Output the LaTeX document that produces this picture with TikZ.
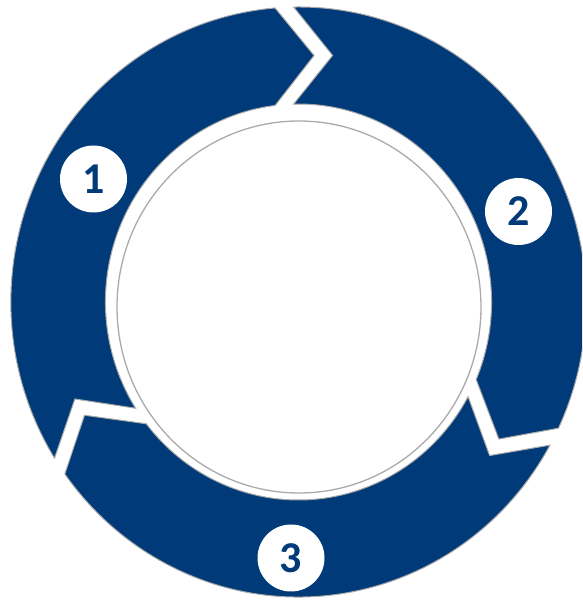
\documentclass[tikz,border=0pt]{standalone}
\usepackage{fontspec}
\newfontfamily\numfont{Carlito}
\definecolor{ringblue}{RGB}{0,58,120}
\definecolor{edgegray}{RGB}{170,170,170}
\begin{document}
\begin{tikzpicture}[x=1pt,y=1pt,
  seg/.style={fill=ringblue, draw=edgegray, line width=1pt, line join=miter},
  badge/.style={circle, fill=white, minimum size=67pt, inner sep=0pt, text=ringblue,
    font=\numfont\bfseries\fontsize{44}{44}\selectfont},
  ]
\useasboundingbox (0,0) rectangle (582,601);
\clip (0,0) rectangle (582,601);
\begin{scope}[shift={(298.5,299)}, xscale=0.975]
 % segment 1 (left)
 \draw[seg] (94.67:295) -- (86.29:247) -- (96.96:198)
   arc[start angle=96.96, end angle=212.45, radius=198]
   -- (202.92:249) -- (211.97:295)
   arc[start angle=211.97, end angle=94.67, radius=295] -- cycle;
 % segment 2 (right)
 \draw[seg] (-25.33:295) -- (-33.71:247) -- (-23.04:198)
   arc[start angle=-23.04, end angle=91.45, radius=198]
   -- (81.92:249) -- (90.97:295)
   arc[start angle=90.97, end angle=-25.33, radius=295] -- cycle;
 % segment 3 (bottom)
 \draw[seg] (215.67:295) -- (207.29:247) -- (217.96:198)
   arc[start angle=217.96, end angle=331.45, radius=198]
   -- (321.92:249) -- (330.97:295)
   arc[start angle=330.97, end angle=215.67, radius=295] -- cycle;
\end{scope}
\draw[fill=white, draw=edgegray, line width=1.3pt] (299,294) ellipse[x radius=182, y radius=186];
\node[badge] (b1) at (93.5,422) {1};
\node[badge] (b2) at (518.5,389.5) {2};
\node[badge] (b3) at (291,43) {3};
\end{tikzpicture}
\end{document}
